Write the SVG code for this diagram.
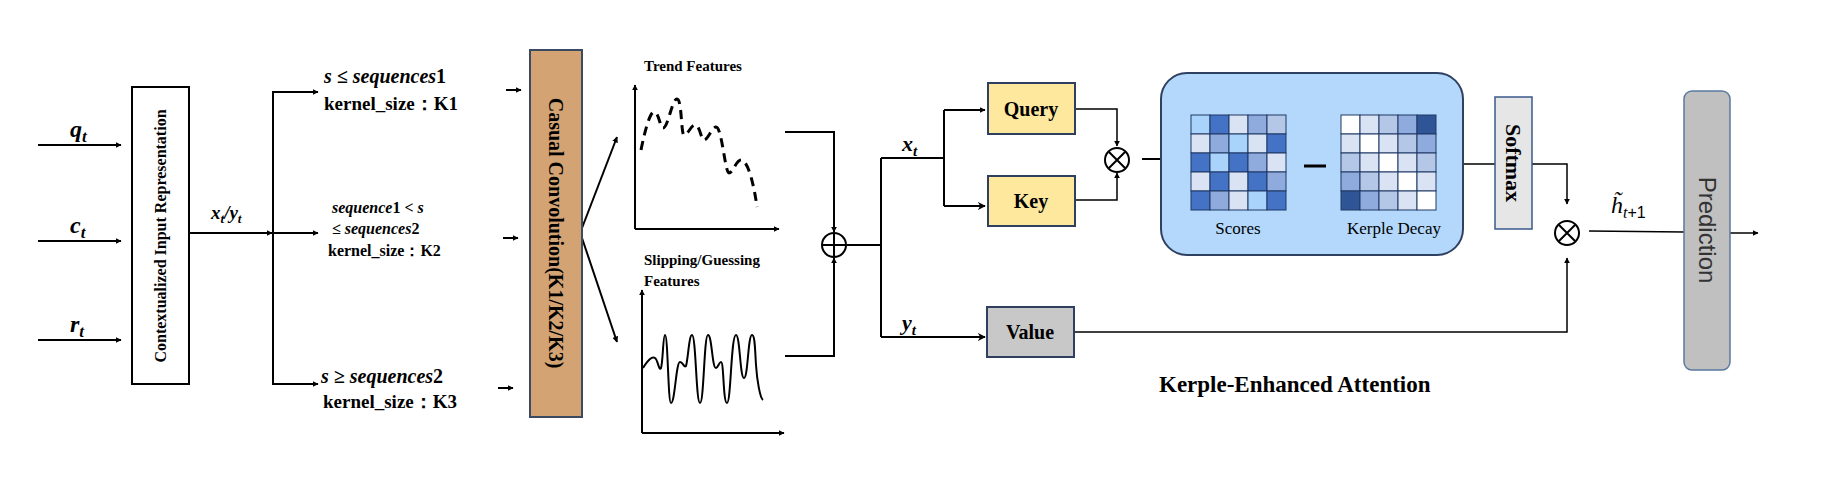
<svg xmlns="http://www.w3.org/2000/svg" width="1826" height="482" viewBox="0 0 1826 482">
<style>
.ln{stroke:#000;stroke-width:2;fill:none}
.th{stroke:#000;stroke-width:1.5;fill:none}
.ar{marker-end:url(#ah)}
.t{font-family:"Liberation Serif",serif;fill:#000}
.b{font-weight:bold}
.m{font-family:"Liberation Serif",serif;font-style:italic;font-weight:bold}
.box{stroke:#2f3f5f;stroke-width:2}
.c1{fill:#4472c4}.c2{fill:#8faadc}.c3{fill:#b4c7e7}.c4{fill:#dae3f3}.c5{fill:#a9d3fb}.c6{fill:#fff}.c7{fill:#2f5597}
.g rect{stroke:#1f3864;stroke-width:1}
</style>
<defs>
<marker id="ah" viewBox="0 0 10 10" refX="9" refY="5" markerWidth="6" markerHeight="6" orient="auto" markerUnits="userSpaceOnUse"><path d="M0,0 L10,5 L0,10 z" fill="#000"/></marker>
<marker id="ah2" viewBox="0 0 10 10" refX="9" refY="5" markerWidth="8" markerHeight="8" orient="auto" markerUnits="userSpaceOnUse"><path d="M0,0 L10,5 L0,10 L3,5 z" fill="#000"/></marker>
</defs>
<rect width="1826" height="482" fill="#fff"/>

<g id="connectors">
<path class="ln ar" d="M38,145 H121"/>
<path class="ln ar" d="M38,241 H121"/>
<path class="ln ar" d="M38,340 H121"/>
<path class="ln ar" d="M189,233 H272"/>
<path class="ln" d="M273,233 V92"/>
<path class="ln" d="M273,233 V384"/>
<path class="ln ar" d="M272,92 H318"/>
<path class="ln ar" d="M273,233 H318"/>
<path class="ln ar" d="M272,384 H318"/>
<path class="ln ar" d="M506,90 H521"/>
<path class="ln ar" d="M503,238 H518"/>
<path class="ln ar" d="M498,388 H513"/>
<path class="ln ar" d="M582,228 L617,137"/>
<path class="ln ar" d="M582,238 L617,342"/>
<path class="ln ar" d="M785,132 H834 V232"/>
<path class="ln ar" d="M785,356 H834 V258"/>
<path class="ln" d="M847,245 H881"/>
<path class="ln" d="M881,158 V337"/>
<path class="ln" d="M881,158 H944 V206"/>
<path class="ln" d="M944,158 V110"/>
<path class="ln ar" d="M944,110 H985" marker-end="url(#ah2)"/>
<path class="ln" d="M944,206 H985" marker-end="url(#ah2)"/>
<path class="ln" d="M881,337 H985" marker-end="url(#ah2)"/>
<path class="th ar" d="M1075,109 H1117 V146"/>
<path class="th ar" d="M1075,200 H1117 V173"/>
<path class="ln ar" d="M1142,159 H1181"/>
<path class="th" d="M1463,164 H1495"/>
<path class="th ar" d="M1532,164 H1567 V204"/>
<path class="th ar" d="M1074,332 H1567 V258"/>
<path class="th" d="M1589,231 L1684,232"/>
<path class="th ar" d="M1730,233 H1758"/>
</g>

<g id="inputs">
<text class="m" x="70" y="137" font-size="24">q<tspan font-size="17" dy="5">t</tspan></text>
<text class="m" x="70" y="233" font-size="24">c<tspan font-size="17" dy="5">t</tspan></text>
<text class="m" x="70" y="332" font-size="24">r<tspan font-size="17" dy="5">t</tspan></text>
<text class="m" x="211" y="219" font-size="19" font-weight="normal">x<tspan font-size="13" dy="4">t</tspan><tspan dy="-4">/y</tspan><tspan font-size="13" dy="4">t</tspan></text>
</g>

<g id="context">
<rect x="132" y="87" width="57" height="297" fill="#fff" stroke="#000" stroke-width="2"/>
<text class="t b" font-size="16" text-anchor="middle" transform="translate(166,236) rotate(-90)">Contextualized Input Representation</text>
</g>

<g id="branch-labels">
<text x="324" y="83" font-size="20"><tspan class="m">s ≤ sequences</tspan><tspan class="t b">1</tspan></text>
<text class="t b" x="324" y="110" font-size="19">kernel_size：K1</text>
<text x="332" y="213" font-size="16"><tspan class="m">sequence</tspan><tspan class="t b">1</tspan><tspan class="m"> &lt; s</tspan></text>
<text x="332" y="234" font-size="16"><tspan class="m">≤ sequences</tspan><tspan class="t b">2</tspan></text>
<text class="t b" x="328" y="256" font-size="16">kernel_size：K2</text>
<text x="321" y="383" font-size="20"><tspan class="m">s ≥ sequences</tspan><tspan class="t b">2</tspan></text>
<text class="t b" x="323" y="408" font-size="19">kernel_size：K3</text>
</g>

<g id="conv">
<rect x="530" y="50" width="52" height="367" fill="#d4a373" stroke="#3b4a63" stroke-width="2"/>
<text class="t b" font-size="20" text-anchor="middle" transform="translate(549,233) rotate(90)">Casual Convolution(K1/K2/K3)</text>
</g>

<g id="trend">
<text class="t b" x="644" y="71" font-size="15">Trend Features</text>
<path class="ln ar" d="M635,229 V85"/>
<path class="ln ar" d="M635,229 H779"/>
<path d="M641,150 C645,130 650,112 654,112 C659,112 660,128 663,128 C668,128 672,99 677,99 C682,99 681,135 684,135 C688,135 691,125 695,125 C700,125 701,140 704,140 C708,140 712,127 716,127 C722,127 725,173 729,173 C733,173 736,160 741,160 C748,160 754,185 757,207" fill="none" stroke="#000" stroke-width="3" stroke-dasharray="9,6"/>
</g>

<g id="slipping">
<text class="t b" x="644" y="265" font-size="15">Slipping/Guessing</text>
<text class="t b" x="644" y="286" font-size="15">Features</text>
<path class="ln ar" d="M642,433 V290"/>
<path class="ln ar" d="M642,433 H784"/>
<path d="M643,368 C648,360 652,356 655,358 C658,360 659,372 661,368 C663,362 663,335 665,335 C668,335 668,403 671,403 C675,403 676,362 680,362 C683,362 684,368 686,366 C688,360 689,335 692,335 C696,335 696,403 700,403 C704,403 704,335 708,335 C712,335 712,368 716,368 C718,368 719,362 721,362 C724,362 723,403 727,403 C731,403 731,335 736,335 C740,335 740,378 744,378 C748,378 748,335 752,335 C755,335 755,350 756,365 C757,380 760,398 763,400" fill="none" stroke="#000" stroke-width="2"/>
</g>

<g id="oplus">
<circle cx="834" cy="245" r="12" fill="#fff" stroke="#000" stroke-width="2"/>
<path class="ln" d="M822,245 H846 M834,233 V257"/>
</g>

<g id="xy-labels">
<text class="m" x="902" y="151" font-size="22" font-weight="normal">x<tspan font-size="15" dy="5">t</tspan></text>
<text class="m" x="902" y="330" font-size="22" font-weight="normal">y<tspan font-size="15" dy="5">t</tspan></text>
</g>

<g id="query"><rect class="box" x="988" y="83" width="87" height="51" fill="#fde89e"/><text class="t b" x="1031" y="116" font-size="20" text-anchor="middle">Query</text></g>
<g id="key"><rect class="box" x="988" y="176" width="87" height="50" fill="#fde89e"/><text class="t b" x="1031" y="208" font-size="20" text-anchor="middle">Key</text></g>
<g id="value"><rect class="box" x="987" y="307" width="87" height="50" fill="#c8c8c8"/><text class="t b" x="1030" y="339" font-size="20" text-anchor="middle">Value</text></g>

<g id="otimes1">
<circle cx="1117" cy="160" r="12" fill="#fff" stroke="#000" stroke-width="2"/>
<path class="ln" d="M1109,152 L1125,168 M1125,152 L1109,168"/>
</g>

<g id="attention">
<rect x="1161" y="73" width="302" height="182" rx="26" fill="#b3d8fc" stroke="#2f4060" stroke-width="2"/>
<g class="g" transform="translate(1191,115)">
<rect class="c5" x="0" y="0" width="19" height="19"/><rect class="c1" x="19" y="0" width="19" height="19"/><rect class="c4" x="38" y="0" width="19" height="19"/><rect class="c2" x="57" y="0" width="19" height="19"/><rect class="c3" x="76" y="0" width="19" height="19"/>
<rect class="c4" x="0" y="19" width="19" height="19"/><rect class="c2" x="19" y="19" width="19" height="19"/><rect class="c5" x="38" y="19" width="19" height="19"/><rect class="c4" x="57" y="19" width="19" height="19"/><rect class="c1" x="76" y="19" width="19" height="19"/>
<rect class="c1" x="0" y="38" width="19" height="19"/><rect class="c5" x="19" y="38" width="19" height="19"/><rect class="c1" x="38" y="38" width="19" height="19"/><rect class="c2" x="57" y="38" width="19" height="19"/><rect class="c4" x="76" y="38" width="19" height="19"/>
<rect class="c4" x="0" y="57" width="19" height="19"/><rect class="c1" x="19" y="57" width="19" height="19"/><rect class="c4" x="38" y="57" width="19" height="19"/><rect class="c1" x="57" y="57" width="19" height="19"/><rect class="c2" x="76" y="57" width="19" height="19"/>
<rect class="c1" x="0" y="76" width="19" height="19"/><rect class="c2" x="19" y="76" width="19" height="19"/><rect class="c4" x="38" y="76" width="19" height="19"/><rect class="c5" x="57" y="76" width="19" height="19"/><rect class="c1" x="76" y="76" width="19" height="19"/>
</g>
<path d="M1304,166 H1326" stroke="#000" stroke-width="3"/>
<g class="g" transform="translate(1341,115)">
<rect class="c6" x="0" y="0" width="19" height="19"/><rect class="c4" x="19" y="0" width="19" height="19"/><rect class="c3" x="38" y="0" width="19" height="19"/><rect class="c2" x="57" y="0" width="19" height="19"/><rect class="c7" x="76" y="0" width="19" height="19"/>
<rect class="c4" x="0" y="19" width="19" height="19"/><rect class="c6" x="19" y="19" width="19" height="19"/><rect class="c4" x="38" y="19" width="19" height="19"/><rect class="c3" x="57" y="19" width="19" height="19"/><rect class="c2" x="76" y="19" width="19" height="19"/>
<rect class="c3" x="0" y="38" width="19" height="19"/><rect class="c4" x="19" y="38" width="19" height="19"/><rect class="c6" x="38" y="38" width="19" height="19"/><rect class="c4" x="57" y="38" width="19" height="19"/><rect class="c3" x="76" y="38" width="19" height="19"/>
<rect class="c2" x="0" y="57" width="19" height="19"/><rect class="c3" x="19" y="57" width="19" height="19"/><rect class="c4" x="38" y="57" width="19" height="19"/><rect class="c6" x="57" y="57" width="19" height="19"/><rect class="c4" x="76" y="57" width="19" height="19"/>
<rect class="c7" x="0" y="76" width="19" height="19"/><rect class="c2" x="19" y="76" width="19" height="19"/><rect class="c3" x="38" y="76" width="19" height="19"/><rect class="c4" x="57" y="76" width="19" height="19"/><rect class="c6" x="76" y="76" width="19" height="19"/>
</g>
<text class="t" x="1238" y="234" font-size="17" text-anchor="middle">Scores</text>
<text class="t" x="1394" y="234" font-size="17" text-anchor="middle">Kerple Decay</text>
</g>

<g id="softmax">
<rect x="1495" y="97" width="37" height="132" fill="#e6e6e6" stroke="#3a5a8a" stroke-width="1.5"/>
<text class="t b" font-size="22" text-anchor="middle" transform="translate(1506,163) rotate(90)">Softmax</text>
</g>

<g id="otimes2">
<circle cx="1567" cy="233" r="12" fill="#fff" stroke="#000" stroke-width="2"/>
<path class="ln" d="M1559,225 L1575,241 M1575,225 L1559,241"/>
</g>
<text x="1611" y="213" font-family="Liberation Serif, serif" font-style="italic" font-size="24">h̃<tspan font-size="16" dy="5">t</tspan><tspan font-family="Liberation Sans, sans-serif" font-style="normal" font-size="16">+1</tspan></text>

<g id="prediction">
<rect x="1684" y="91" width="46" height="279" rx="8" fill="#c0c0c0" stroke="#5a7aa0" stroke-width="1.5"/>
<text font-family="Liberation Sans, sans-serif" font-size="24" fill="#333" text-anchor="middle" transform="translate(1699,230) rotate(90)">Prediction</text>
</g>

<text class="t b" x="1159" y="392" font-size="23">Kerple-Enhanced Attention</text>
</svg>
